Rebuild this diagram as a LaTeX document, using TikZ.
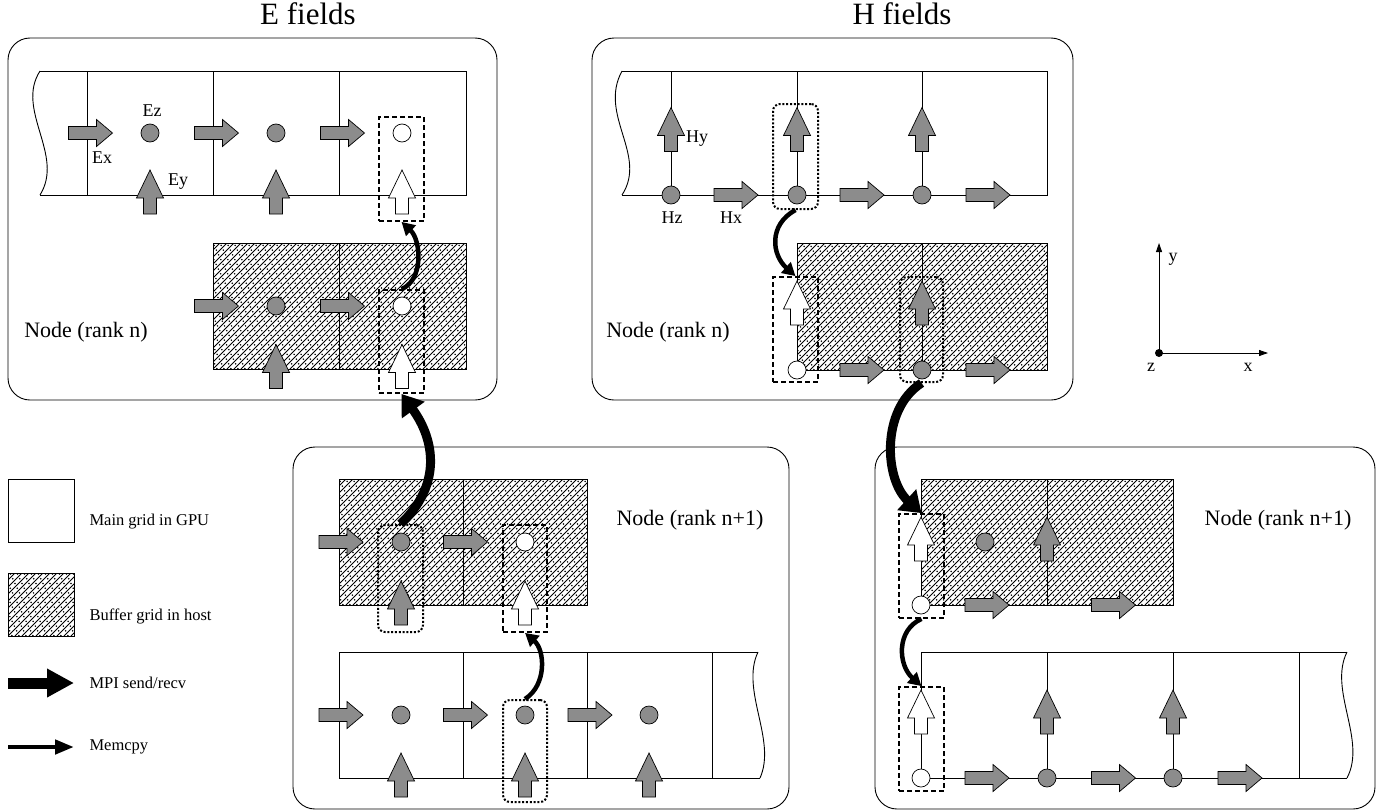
\documentclass[tikz,border=0pt]{standalone}
\usepackage{fontspec}
\setmainfont{Liberation Serif}
\usetikzlibrary{arrows.meta}
\definecolor{gfill}{RGB}{140,140,140}
\newcommand{\hatchbox}[4]{%
  \begin{scope}
    \clip (#1,#2) rectangle (#3,#4);
    \pgfmathsetmacro\hhh{#4-#2}
    \pgfmathtruncatemacro\hnn{(#3-#1+\hhh)/7+1}
    \foreach \i in {0,...,\hnn}{
      \pgfmathsetmacro\hxx{#1-\hhh+7*\i}
      \draw[hatchl] (\hxx,#4) -- ++(\hhh,-\hhh);
      \draw[hatchd] (\hxx+3.5,#4) -- ++(\hhh,-\hhh);
    }
  \end{scope}
  \draw[gridl] (#1,#2) rectangle (#3,#4);}
\tikzset{
  hatchl/.style={line width=0.9pt},
  hatchd/.style={line width=1.2pt, dash pattern=on 1.2pt off 5.5pt},
  gridl/.style={line width=0.9pt},
  panel/.style={line width=0.9pt, rounded corners=22pt},
  fc/.style={circle, draw, line width=0.7pt, fill=gfill, minimum size=18pt, inner sep=0pt},
  wc/.style={circle, draw, line width=0.7pt, fill=white, minimum size=18pt, inner sep=0pt},
  dbox/.style={draw, dash pattern=on 5pt off 3pt, line width=1.8pt, inner sep=0pt, minimum width=45pt},
  obox/.style={draw, dash pattern=on 2pt off 1.8pt, line width=2pt, rounded corners=7pt, inner sep=0pt, minimum width=45pt},
  mpi/.style={line width=9pt, -{Triangle[length=20pt,width=27pt]}},
  memcpy/.style={line width=4.5pt, -{Triangle[length=13pt,width=14pt]}},
  ttl/.style={font=\fontsize{31}{31}\selectfont},
  rnk/.style={font=\fontsize{22}{22}\selectfont},
  fld/.style={font=\fontsize{18}{18}\selectfont},
  lgd/.style={font=\fontsize{16.5}{16.5}\selectfont, anchor=west},
  pics/harr/.style={code={\draw[line width=0.7pt, fill=#1] (-22,-6.5) -- (6,-6.5) -- (6,-13.5) -- (22,0) -- (6,13.5) -- (6,6.5) -- (-22,6.5) -- cycle;}},
  pics/harr/.default=gfill,
  pics/varr/.style={code={\draw[line width=0.7pt, fill=#1] (-6.5,22) -- (-6.5,6) -- (-13.5,6) -- (0,-22) -- (13.5,6) -- (6.5,6) -- (6.5,22) -- cycle;}},
  pics/varr/.default=gfill,
}
\begin{document}
\begin{tikzpicture}[x=1pt, y=-1pt]
\useasboundingbox (0,0) rectangle (1380,811);

% titles
\node[ttl] (tE) at (308,14) {E fields};
\node[ttl] (tH) at (902,14) {H fields};

% panels
\draw[panel] (8,38) rectangle (497,400);
\draw[panel] (592,38) rectangle (1073,400);
\draw[panel] (293,447) rectangle (789,809);
\draw[panel] (875,447) rectangle (1375,809);

% ================= E fields, rank n =================
\draw[gridl] (40,71) -- (466,71) -- (466,195) -- (40,195);
\draw[gridl] (40,71) .. controls (15,110) and (65,155) .. (40,195);
\foreach \x in {87,213,339} \draw[gridl] (\x,71) -- (\x,195);
\foreach \x in {90.5,216.5,342.5} \pic at (\x,133) {harr};
\node[fc] (eTL1) at (150,133) {};
\node[fc] (eTL2) at (276,133) {};
\node[wc] (eTL3) at (402,133) {};
\pic at (150,192) {varr};
\pic at (276,192) {varr};
\pic at (402,192) {varr=white};
\node[fld] (lEz) at (152,111) {Ez};
\node[fld] (lEx) at (102,158) {Ex};
\node[fld] (lEy) at (178,182) {Ey};
\node[dbox, minimum height=104pt] (bTLt) at (401.5,169) {};

\hatchbox{213}{243}{466}{369}
\draw[gridl] (339,243) -- (339,369);
\pic at (216.5,306) {harr};
\pic at (342.5,306) {harr};
\node[fc] (eTL4) at (276,306) {};
\node[wc] (eTL5) at (402,306) {};
\pic at (276,366.5) {varr};
\pic at (402,366.5) {varr=white};
\node[dbox, minimum height=103pt] (bTLb) at (401.5,341.5) {};
\node[rnk] (rTL) at (86,332) {Node (rank n)};

% ================= H fields, rank n =================
\draw[gridl] (622,71) -- (1047,71) -- (1047,195) -- (622,195);
\draw[gridl] (622,71) .. controls (598,115) and (648,155) .. (622,195);
\foreach \x in {671,797,922} \draw[gridl] (\x,71) -- (\x,195);
\foreach \x in {671,797,922} \pic at (\x,129.5) {varr};
\foreach \x in {736,862,988} \pic at (\x,195) {harr};
\node[fc] (hTR1) at (671,195) {};
\node[fc] (hTR2) at (797,195) {};
\node[fc] (hTR3) at (922,195) {};
\node[fld] (lHy) at (697,139) {Hy};
\node[fld] (lHz) at (672,218) {Hz};
\node[fld] (lHx) at (731,218) {Hx};
\node[obox, minimum height=105pt] (oTRt) at (795.5,156.5) {};

\hatchbox{797}{243}{1047}{370}
\draw[gridl] (922,243) -- (922,370);
\pic at (797,303) {varr=white};
\pic at (922,303) {varr};
\foreach \x in {862,988} \pic at (\x,370) {harr};
\node[wc] (hTR4) at (797,370) {};
\node[fc] (hTR5) at (922,370) {};
\node[dbox, minimum height=105pt] (bTRb) at (795.5,329.5) {};
\node[obox, minimum width=43pt, minimum height=105pt] (oTRb) at (921.5,329.5) {};
\node[rnk] (rTR) at (668,332) {Node (rank n)};

% ================= E fields, rank n+1 =================
\hatchbox{339}{479}{587}{605}
\draw[gridl] (463,479) -- (463,605);
\pic at (341,542) {harr};
\pic at (465.5,542) {harr};
\node[fc] (eBM1) at (401,542) {};
\node[wc] (eBM2) at (525,542) {};
\pic at (401,603) {varr};
\pic at (525,603) {varr=white};
\node[obox, minimum height=107pt] (oBMb) at (400.5,578.5) {};
\node[dbox, minimum width=44pt, minimum height=107pt] (bBMb) at (525,578.5) {};
\node[rnk] (rBM) at (690,520) {Node (rank n+1)};

\draw[gridl] (758,652) -- (339,652) -- (339,778) -- (760,778);
\draw[gridl] (758,652) .. controls (740,690) and (777,740) .. (760,778);
\foreach \x in {463,587,712} \draw[gridl] (\x,652) -- (\x,778);
\foreach \x in {341,465.5,590} \pic at (\x,715) {harr};
\node[fc] (eBM3) at (401,715) {};
\node[fc] (eBM4) at (525,715) {};
\node[fc] (eBM5) at (649,715) {};
\foreach \x in {401,525,649} \pic at (\x,775) {varr};
\node[obox, minimum width=44pt, minimum height=102pt] (oBMm) at (525,751) {};

% ================= H fields, rank n+1 =================
\hatchbox{921}{479}{1173}{605}
\draw[gridl] (1047,479) -- (1047,605);
\pic at (921,539) {varr=white};
\pic at (1047,539) {varr};
\pic at (987,605) {harr};
\pic at (1113.5,605) {harr};
\node[wc] (hBR1) at (921,605) {};
\node[fc] (hBR2) at (985,542) {};
\node[dbox, minimum height=104pt] (bBRb) at (921.5,566) {};
\node[rnk] (rBR) at (1278,520) {Node (rank n+1)};

\draw[gridl] (1347,652) -- (921,652) -- (921,778) -- (1347,778);
\draw[gridl] (1347,652) .. controls (1328,690) and (1367,740) .. (1347,778);
\foreach \x in {1047,1173} \draw[gridl] (\x,652) -- (\x,778);
\draw[gridl] (1299,652) -- (1299,778);
\pic at (921,712) {varr=white};
\pic at (1047,712) {varr};
\pic at (1173,712) {varr};
\foreach \x in {987,1113.5,1240} \pic at (\x,778) {harr};
\node[wc] (hBR3) at (921,778) {};
\node[fc] (hBR4) at (1047,778) {};
\node[fc] (hBR5) at (1173,778) {};
\node[dbox, minimum height=104pt] (bBRm) at (921.5,739) {};

% ================= transfers =================
\draw[memcpy] (bTLb.north) .. controls (424,280) and (421,240) .. (bTLt.south);
\draw[mpi] (oBMb.north) .. controls (442,485) and (435,440) .. (bTLb.south);
\draw[memcpy] (oBMm.north) .. controls (547,685) and (545,650) .. (bBMb.south);
\draw[memcpy] (oTRt.south) .. controls (768,225) and (772,255) .. (bTRb.north);
\draw[mpi] (oTRb.south) .. controls (880,410) and (885,480) .. (bBRb.north);
\draw[memcpy] (bBRb.south) .. controls (896,630) and (898,665) .. (bBRm.north);

% ================= legend =================
\draw[gridl] (8,479) rectangle (74,542);
\node[lgd] (lg1) at (86,522) {Main grid in GPU};
\hatchbox{8}{573}{74}{636}
\node[lgd] (lg2) at (86,616) {Buffer grid in host};
\coordinate (lm1) at (8,683);
\coordinate (lm2) at (74,683);
\draw[line width=11pt, -{Triangle[length=27pt,width=27pt]}] (lm1) -- (lm2);
\node[lgd] (lg3) at (86,683) {MPI send/recv};
\coordinate (lc1) at (8,747);
\coordinate (lc2) at (74,747);
\draw[line width=4.5pt, -{Triangle[length=19pt,width=14pt]}] (lc1) -- (lc2);
\node[lgd] (lg4) at (86,747) {Memcpy};

% ================= axes =================
\node[circle, fill, inner sep=0pt, minimum size=8pt] (orig) at (1159,353) {};
\coordinate (ytip) at (1159,243);
\coordinate (xtip) at (1268,353);
\draw[line width=0.8pt, -{Triangle[length=9pt,width=6pt]}] (orig.center) -- (ytip);
\draw[line width=0.8pt, -{Triangle[length=9pt,width=6pt]}] (orig.center) -- (xtip);
\node[fld] (ay) at (1173,259) {y};
\node[fld] (az) at (1151,367) {z};
\node[fld] (ax) at (1248,367) {x};
\end{tikzpicture}
\end{document}
